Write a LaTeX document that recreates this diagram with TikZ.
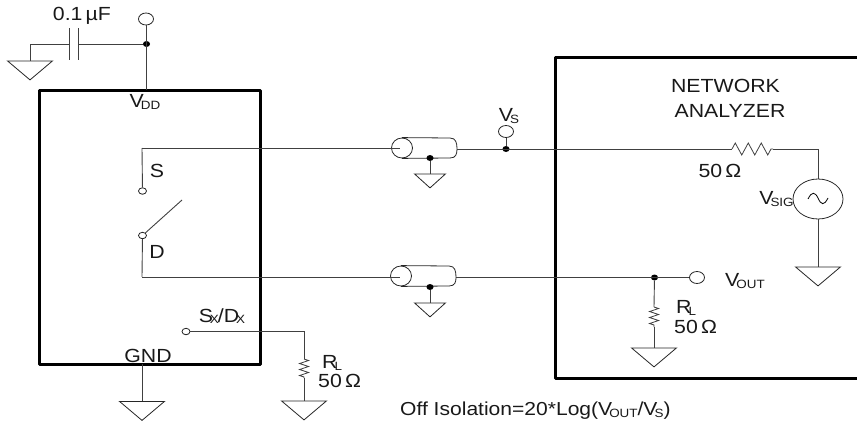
\documentclass[tikz,border=0pt]{standalone}
\usepackage{fontspec}
\setmainfont[FakeStretch=1.12]{Liberation Sans}
\usetikzlibrary{shapes.geometric,decorations.pathmorphing}
\newcommand{\lowtxt}[2]{#1\kern-3pt\raisebox{-1.2pt}{\fontsize{12}{12}\selectfont #2}}
\tikzset{
  wire/.style={draw=black!75,line width=0.9pt},
  frame/.style={draw=black,line width=3pt,line cap=round,line join=round},
  term/.style={draw=black!85,fill=white,ellipse,inner sep=0pt,line width=0.8pt,minimum width=15pt,minimum height=12pt},
  smallterm/.style={term,minimum width=8pt,minimum height=6.5pt},
  jdot/.style={fill=black,ellipse,inner sep=0pt,minimum width=7pt,minimum height=6pt},
  gnd/.style={draw=black!85,isosceles triangle,isosceles triangle stretches,shape border rotate=-90,anchor=lower side,inner sep=0pt,line width=0.8pt,minimum width=45pt,minimum height=19pt},
  smallgnd/.style={gnd,minimum width=31pt,minimum height=14pt},
  res/.style={wire,line width=0.8pt,decorate,decoration={zigzag,segment length=6pt,amplitude=4.5pt}},
  lbl/.style={inner sep=0pt,text=black!90,font=\fontsize{19}{21}\selectfont},
  small/.style={lbl,font=\fontsize{18.8}{20}\selectfont}
}
\begin{document}
\begin{tikzpicture}[x=1pt,y=-1pt]
\useasboundingbox (0,0) rectangle (857,423);

% frames
\coordinate (boxa) at (39,90);
\coordinate (boxb) at (260,364);
\path[frame] (boxa) rectangle (boxb);
\path[frame] (857,57) -- (555,57) -- (555,378) -- (857,378);

% supply side
\node[term] (vdd) at (146,19) {};
\node[jdot] (vddj) at (146.5,44) {};
\coordinate (vddb) at (146,90);
\coordinate (capa) at (69,44);
\coordinate (capb) at (78.5,44);
\coordinate (capg) at (30,44);
\node[gnd] (gcap) at (30,60.5) {};
\path[wire] (vdd) -- (vddb);
\path[wire] (vddj) -- (capb);
\path[wire] (capa) -- (capg) -- (gcap.lower side);
\path[wire] (69,28) -- (69,60);
\path[wire] (78.5,28) -- (78.5,60);
\node[lbl] (cap) at (82,16) {0.1\,µF};
\node[lbl] (vddl) at (145,102) {\lowtxt{V}{DD}};

% switch
\node[smallterm] (s) at (142.5,191) {};
\node[smallterm] (d) at (142.5,235.5) {};
\coordinate (blade) at (182,200);
\coordinate (sc) at (142,148);
\coordinate (dc) at (142,277);
\path[wire] (d) -- (blade);
\path[wire] (s) -- (sc);
\path[wire] (d) -- (dc);
\node[lbl] (sl) at (157,171) {S};
\node[lbl] (dl) at (157,252) {D};

% upper coax
\node[draw=black!85,ellipse,inner sep=0pt,line width=0.8pt,minimum width=21pt,minimum height=20pt] (coaxa) at (402,148) {};
\coordinate (coaxai) at (400,148);
\coordinate (coaxao) at (457,149);
\path[wire] (sc) -- (coaxai);
\path[draw=black!85,line width=0.8pt] (coaxa.north) -- (450,138) .. controls (456,138) and (457,143) .. (coaxao) .. controls (457,154) and (456,158) .. (450,158) -- (coaxa.south);
\node[jdot] (coaxaj) at (430,158) {};
\node[smallgnd] (gcoaxa) at (430,173.5) {};
\path[wire] (coaxaj) -- (gcoaxa.lower side);

% lower coax
\node[draw=black!85,ellipse,inner sep=0pt,line width=0.8pt,minimum width=21pt,minimum height=20pt] (coaxb) at (401,276) {};
\coordinate (coaxbi) at (400,277);
\coordinate (coaxbo) at (456,277.5);
\path[wire] (dc) -- (coaxbi);
\path[draw=black!85,line width=0.8pt] (coaxb.north) -- (449,266) .. controls (455,266) and (456,271) .. (coaxbo) .. controls (456,282) and (455,286) .. (449,286) -- (coaxb.south);
\node[jdot] (coaxbj) at (430,287) {};
\node[smallgnd] (gcoaxb) at (430,302.5) {};
\path[wire] (coaxbj) -- (gcoaxb.lower side);

% signal path
\node[jdot] (vsj) at (506,149) {};
\node[term] (vs) at (506,131.5) {};
\coordinate (rsiga) at (732,149);
\coordinate (rsigb) at (773,149);
\coordinate (sigc) at (818,149);
\node[draw=black!85,ellipse,inner sep=0pt,line width=0.8pt,minimum width=50pt,minimum height=40pt] (vsig) at (818,199) {};
\node[gnd] (gsig) at (818,266.5) {};
\path[wire] (coaxao) -- (rsiga);
\path[wire] (vsj) -- (vs);
\path[res,decoration={segment length=13pt,amplitude=6pt}] (rsiga) -- (rsigb);
\path[wire] (rsigb) -- (sigc) -- (vsig);
\path[wire] (vsig) -- (gsig.lower side);
\path[draw=black,line width=0.8pt] (808,199) .. controls (812,191) and (815,192) .. (818,198) .. controls (821,205) and (824,206) .. (828,198);
\node[lbl] (vsl) at (509,116) {\lowtxt{V}{S}};
\node[lbl] (nwa) at (725.5,86) {NETWORK};
\node[lbl] (nwb) at (730,111) {ANALYZER};
\node[lbl] (rsigl) at (720,171) {50\,Ω};
\node[lbl] (vsigl) at (776.5,199) {\lowtxt{V}{SIG}};

% output path
\node[jdot] (vobj) at (654.5,277.5) {};
\node[term] (vout) at (697,277.5) {};
\coordinate (routa) at (654,307);
\coordinate (routb) at (654,327);
\node[gnd] (gout) at (654,347.5) {};
\path[wire] (coaxbo) -- (vout);
\path[wire] (vobj) -- (routa);
\path[res] (routa) -- (routb);
\path[wire] (routb) -- (gout.lower side);
\node[lbl] (voutl) at (745,281) {\lowtxt{V}{OUT}};
\node[lbl,anchor=west] (routl) at (676,308) {\lowtxt{R}{L}};
\node[lbl,anchor=west] (routv) at (674,327) {50\,Ω};

% sx/dx leg
\node[smallterm] (sx) at (186,331.5) {};
\coordinate (sxc) at (304,331.5);
\coordinate (rxa) at (304,359);
\coordinate (rxb) at (304,378);
\node[gnd] (gsx) at (304,400.5) {};
\node[gnd] (gic) at (142,401) {};
\path[wire] (sx) -- (sxc) -- (rxa);
\path[res] (rxa) -- (rxb);
\path[wire] (rxb) -- (gsx.lower side);
\path[wire] (142,364) -- (gic.lower side);
\node[lbl] (sxl) at (222,316) {\lowtxt{S}{X}\kern-1pt/\lowtxt{D}{X}};
\node[lbl] (gndl) at (148,356) {GND};
\node[lbl,anchor=west] (rxl) at (322,363) {\lowtxt{R}{L}};
\node[lbl,anchor=west] (rxv) at (318,381) {50\,Ω};

\node[small,anchor=west] (iso) at (400,411) {Off Isolation=20*Log(\lowtxt{V}{OUT}/\lowtxt{V}{S})};
\end{tikzpicture}
\end{document}
